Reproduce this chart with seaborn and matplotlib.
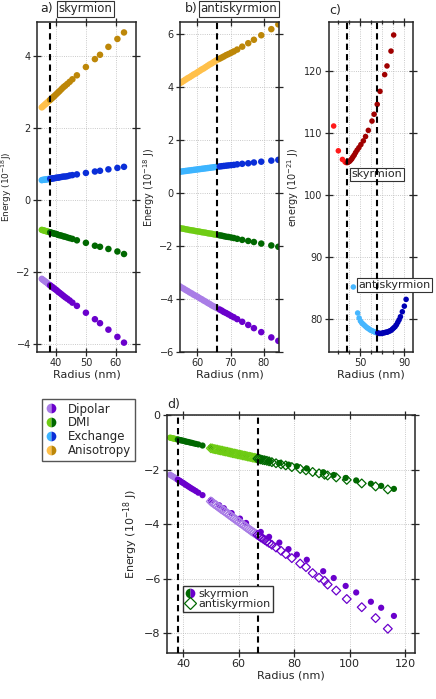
import numpy as np
import pandas as pd
import seaborn as sns
import matplotlib.pyplot as plt
from matplotlib.lines import Line2D
from matplotlib.ticker import FixedLocator, MultipleLocator

# ---- skyrmion: radius (nm) and energy terms (1e-18 J)
sk_r = [35.3, 35.7, 36.1, 36.5, 36.9, 37.3, 37.7, 38.1, 38.5, 38.9,
        39.3, 39.8, 40.3, 40.8, 41.3, 41.9, 42.5, 43.1, 43.8, 44.6,
        45.5, 47.0, 50.0, 53.0, 54.7, 57.5, 60.5, 62.7, 68.0, 71.0,
        74.7, 78.0, 81.0, 84.6, 90.5, 94.3, 98.6, 102.4, 107.7, 111.4, 116.0]
sk_dmi = [-0.83, -0.84, -0.85, -0.86, -0.87, -0.88, -0.89, -0.90, -0.91, -0.92,
          -0.93, -0.94, -0.95, -0.97, -0.98, -0.99, -1.01, -1.02, -1.04, -1.06,
          -1.08, -1.12, -1.19, -1.27, -1.30, -1.36, -1.43, -1.50, -1.63, -1.70,
          -1.76, -1.82, -1.88, -1.96, -2.10, -2.20, -2.31, -2.40, -2.52, -2.60, -2.71]
sk_dip = [-2.19, -2.22, -2.24, -2.27, -2.29, -2.32, -2.35, -2.37, -2.40, -2.42,
          -2.45, -2.48, -2.51, -2.55, -2.58, -2.62, -2.66, -2.70, -2.74, -2.79,
          -2.85, -2.94, -3.13, -3.31, -3.42, -3.60, -3.80, -3.96, -4.29, -4.47,
          -4.68, -4.92, -5.12, -5.31, -5.73, -5.98, -6.27, -6.51, -6.85, -7.07, -7.37]
# exchange / anisotropy only for the radii shown in panel a
sk_exch = [0.55, 0.56, 0.56, 0.57, 0.57, 0.58, 0.58, 0.59, 0.59, 0.60,
           0.60, 0.61, 0.62, 0.62, 0.63, 0.64, 0.65, 0.65, 0.66, 0.68,
           0.69, 0.71, 0.75, 0.79, 0.81, 0.85, 0.89, 0.92]
sk_anis = [2.57, 2.60, 2.63, 2.66, 2.69, 2.72, 2.75, 2.78, 2.81, 2.84,
           2.87, 2.91, 2.95, 2.99, 3.03, 3.08, 3.13, 3.17, 3.22, 3.28,
           3.35, 3.46, 3.69, 3.91, 4.03, 4.25, 4.47, 4.65]

# ---- antiskyrmion
ask_r = [50.0, 50.6, 51.2, 51.8, 52.4, 53.0, 53.6, 54.2, 54.8, 55.4,
         56.0, 56.6, 57.2, 57.8, 58.4, 59.0, 59.6, 60.2, 60.8, 61.4,
         62.0, 62.6, 63.2, 63.8, 64.4, 65.0, 65.6, 66.2, 66.8, 67.4,
         68.0, 68.7, 69.4, 70.2, 71.0, 72.0, 73.5, 75.3, 77.0, 79.2,
         82.2, 84.3, 86.7, 89.0, 91.0, 92.1, 95.2, 99.0, 104.4, 109.4, 113.8]
ask_dmi = [-1.22, -1.23, -1.25, -1.26, -1.27, -1.29, -1.30, -1.31, -1.33, -1.34,
           -1.35, -1.37, -1.38, -1.40, -1.41, -1.42, -1.44, -1.45, -1.46, -1.48,
           -1.49, -1.50, -1.52, -1.53, -1.54, -1.56, -1.57, -1.58, -1.60, -1.61,
           -1.63, -1.65, -1.66, -1.68, -1.70, -1.73, -1.77, -1.81, -1.85, -1.91,
           -1.98, -2.03, -2.09, -2.14, -2.19, -2.22, -2.29, -2.38, -2.51, -2.62, -2.73]
ask_dip = [-3.17, -3.21, -3.26, -3.30, -3.35, -3.39, -3.44, -3.48, -3.52, -3.57,
           -3.61, -3.66, -3.70, -3.75, -3.79, -3.84, -3.88, -3.92, -3.97, -4.01,
           -4.06, -4.10, -4.15, -4.19, -4.24, -4.28, -4.32, -4.36, -4.40, -4.44,
           -4.49, -4.53, -4.58, -4.64, -4.69, -4.76, -4.86, -4.98, -5.10, -5.25,
           -5.45, -5.58, -5.80, -5.97, -6.08, -6.22, -6.44, -6.75, -7.05, -7.45, -7.84]
ask_exch = [0.72, 0.73, 0.74, 0.75, 0.76, 0.77, 0.78, 0.79, 0.80, 0.81,
            0.82, 0.83, 0.84, 0.85, 0.86, 0.87, 0.88, 0.89, 0.90, 0.91,
            0.92, 0.93, 0.94, 0.95, 0.96, 0.97, 0.98, 0.99, 1.00, 1.01,
            1.02, 1.03, 1.04, 1.05, 1.06, 1.08, 1.10, 1.12, 1.15, 1.18,
            1.22, 1.25]
ask_anis = [3.75, 3.80, 3.85, 3.90, 3.94, 3.99, 4.04, 4.09, 4.14, 4.18,
            4.23, 4.28, 4.33, 4.37, 4.42, 4.47, 4.51, 4.56, 4.61, 4.66,
            4.70, 4.75, 4.80, 4.85, 4.89, 4.94, 4.99, 5.03, 5.07, 5.11,
            5.15, 5.20, 5.24, 5.29, 5.34, 5.41, 5.52, 5.65, 5.78, 5.95,
            6.18, 6.36]

# ---- total energy (1e-21 J), panel c
c_sk_r = [26.3, 30.5, 34.2, 36.6, 37.6, 38.6, 39.6, 40.6, 41.6, 42.6,
          43.6, 44.8, 46.0, 47.4, 49.0, 50.8, 53.0, 55.0, 57.5, 60.8,
          62.7, 65.5, 68.0, 72.2, 74.3, 77.9, 80.3]
c_sk_e = [111.1, 107.1, 105.7, 105.3, 105.2, 105.2, 105.3, 105.4, 105.6, 105.8,
          106.1, 106.4, 106.8, 107.2, 107.6, 108.1, 108.7, 109.4, 110.4, 111.9,
          113.0, 114.6, 116.7, 119.4, 120.8, 123.2, 125.8]
c_ask_r = [44.0, 47.9, 49.2, 50.4, 51.6, 52.8, 54.0, 55.2, 56.4, 57.6,
           58.8, 60.0, 61.2, 62.4, 63.6, 64.8, 66.0, 67.2, 68.4, 69.6,
           70.8, 72.0, 73.2, 74.4, 75.6, 76.8, 78.0, 79.2, 80.4, 81.6,
           82.8, 84.0, 85.2, 86.4, 88.1, 89.9, 91.5]
c_ask_e = [85.1, 80.9, 80.1, 79.6, 79.3, 79.1, 78.9, 78.7, 78.5, 78.4,
           78.2, 78.1, 78.0, 77.9, 77.8, 77.7, 77.7, 77.6, 77.6, 77.6,
           77.7, 77.7, 77.8, 77.8, 77.9, 78.0, 78.1, 78.3, 78.5, 78.7,
           79.0, 79.4, 79.8, 80.3, 81.1, 82.0, 83.1]

sk_rmin = 38.0
ask_rmin = 66.5

cols = {
    'Dipolar': ('#a97de6', '#6a00cc'),
    'DMI': ('#6fcc14', '#006800'),
    'Exchange': ('#3cb4ff', '#0a2ed8'),
    'Anisotropy': ('#ffc04a', '#bd8708'),
}
red = ('#ff1a1a', '#a00000')
blue = ('#45b6ff', '#0000b4')

sns.set_style('ticks')
plt.rcParams['font.family'] = ['DejaVu Sans']


def dots(ax, r, e, thr, pal, s=22):
    df = pd.DataFrame({'r': r, 'e': e})
    df['phase'] = np.where(df['r'] < thr, 'light', 'dark')
    sns.scatterplot(data=df, x='r', y='e', hue='phase',
                    palette={'light': pal[0], 'dark': pal[1]},
                    s=s, linewidth=0, legend=False, ax=ax)


def diamonds(ax, r, e, thr, pal, s=20):
    df = pd.DataFrame({'r': r, 'e': e})
    for ph, c in [('light', pal[0]), ('dark', pal[1])]:
        sub = df[(df['r'] < thr) == (ph == 'light')]
        sns.scatterplot(data=sub, x='r', y='e', marker='D', s=s,
                        color=c, facecolor='none', edgecolor=c,
                        linewidth=0.9, legend=False, ax=ax)


def style(ax, fs=7):
    ax.grid(True, which='both', ls=':', lw=0.6, color='#b8b8b8')
    ax.tick_params(which='both', direction='inout', top=True, right=True,
                   labelsize=fs, width=0.9, length=6, pad=1.5)
    ax.tick_params(which='minor', length=3.5)
    for sp in ax.spines.values():
        sp.set_linewidth(1.1)
    ax.set_axisbelow(True)


def vline(ax, x):
    ax.axvline(x, color='k', lw=1.5, ls=(0, (3, 2)), zorder=5)


def boxed(ax, x, y, txt, fs):
    ax.text(x, y, txt, transform=ax.transAxes, fontsize=fs, va='center',
            ha='left', clip_on=False,
            bbox=dict(boxstyle='square,pad=0.15', fc='white', ec='#333333', lw=0.8))


fig = plt.figure(figsize=(4.36, 6.99), dpi=100)
W, H = 436, 699


def add_ax(l, t, r, b):
    return fig.add_axes([l / W, 1 - b / H, (r - l) / W, (b - t) / H])


ax_a = add_ax(37, 22, 136, 352)
ax_b = add_ax(180, 22, 279, 352)
ax_c = add_ax(329, 22, 413, 352)
ax_d = add_ax(167, 415, 415, 653)

# ---- a) skyrmion
na = len(sk_exch)
dots(ax_a, sk_r[:na], sk_anis, sk_rmin, cols['Anisotropy'])
dots(ax_a, sk_r[:na], sk_exch, sk_rmin, cols['Exchange'])
dots(ax_a, sk_r, sk_dmi, sk_rmin, cols['DMI'])
dots(ax_a, sk_r, sk_dip, sk_rmin, cols['Dipolar'])
vline(ax_a, sk_rmin)
ax_a.set_xlim(33.7, 66.7)
ax_a.set_ylim(-4.22, 4.94)
ax_a.xaxis.set_major_locator(FixedLocator([40, 50, 60]))
ax_a.yaxis.set_major_locator(MultipleLocator(2))
style(ax_a)
ax_a.set_xlabel('Radius (nm)', fontsize=8, labelpad=1)
ax_a.set_ylabel('Energy (10$^{-18}$J)', fontsize=6.5, labelpad=2)
ax_a.text(0.03, 1.04, 'a)', transform=ax_a.transAxes, fontsize=9, va='center')
boxed(ax_a, 0.215, 1.04, 'skyrmion', 8.5)

# ---- b) antiskyrmion
nb = len(ask_exch)
dots(ax_b, ask_r[:nb], ask_anis, ask_rmin, cols['Anisotropy'])
dots(ax_b, ask_r[:nb], ask_exch, ask_rmin, cols['Exchange'])
dots(ax_b, ask_r, ask_dmi, ask_rmin, cols['DMI'])
dots(ax_b, ask_r, ask_dip, ask_rmin, cols['Dipolar'])
vline(ax_b, 66.0)
ax_b.set_xlim(54.9, 84.5)
ax_b.set_ylim(-6.0, 6.45)
ax_b.xaxis.set_major_locator(FixedLocator([60, 70, 80]))
ax_b.yaxis.set_major_locator(MultipleLocator(2))
style(ax_b)
ax_b.set_xlabel('Radius (nm)', fontsize=8, labelpad=1)
ax_b.set_ylabel('Energy (10$^{-18}$ J)', fontsize=7, labelpad=2)
ax_b.text(0.05, 1.04, 'b)', transform=ax_b.transAxes, fontsize=9, va='center')
boxed(ax_b, 0.205, 1.04, 'antiskyrmion', 8.5)

# ---- c) total energy
dots(ax_c, c_sk_r, c_sk_e, sk_rmin, red, s=16)
dots(ax_c, c_ask_r, c_ask_e, 65.0, blue, s=16)
vline(ax_c, sk_rmin)
vline(ax_c, 65.0)
ax_c.set_xlim(22.1, 97.7)
ax_c.set_ylim(74.6, 127.9)
ax_c.xaxis.set_major_locator(FixedLocator([50, 90]))
ax_c.xaxis.set_minor_locator(FixedLocator([30, 40, 60, 70, 80]))
ax_c.yaxis.set_major_locator(MultipleLocator(10))
style(ax_c)
ax_c.set_xlabel('Radius (nm)', fontsize=8, labelpad=1)
ax_c.set_ylabel('energy (10$^{-21}$ J)', fontsize=7, labelpad=2)
ax_c.text(0.0, 1.036, 'c)', transform=ax_c.transAxes, fontsize=9, va='center')
ax_c.text(42.6, 103.3, 'skyrmion', fontsize=8, va='center', ha='left',
          bbox=dict(boxstyle='square,pad=0.15', fc='white', ec='#333333', lw=0.8))
ax_c.text(48.6, 85.4, 'antiskyrmion', fontsize=8, va='center', ha='left', clip_on=False,
          bbox=dict(boxstyle='square,pad=0.15', fc='white', ec='#333333', lw=0.8))

# ---- d) comparison
dots(ax_d, sk_r, sk_dmi, sk_rmin, cols['DMI'], s=20)
dots(ax_d, sk_r, sk_dip, sk_rmin, cols['Dipolar'], s=20)
diamonds(ax_d, ask_r, ask_dmi, ask_rmin, cols['DMI'])
diamonds(ax_d, ask_r, ask_dip, ask_rmin, cols['Dipolar'])
vline(ax_d, sk_rmin)
vline(ax_d, 67.0)
ax_d.set_xlim(34.2, 123.6)
ax_d.set_ylim(-8.73, 0)
ax_d.xaxis.set_major_locator(MultipleLocator(20))
ax_d.yaxis.set_major_locator(MultipleLocator(2))
style(ax_d, fs=8)
ax_d.set_xlabel('Radius (nm)', fontsize=8, labelpad=1)
ax_d.set_ylabel('Energy (10$^{-18}$ J)', fontsize=8, labelpad=3)
ax_d.text(0.0, 1.046, 'd)', transform=ax_d.transAxes, fontsize=9, va='center')

d_handles = [
    Line2D([], [], ls='none', marker='o', ms=7, fillstyle='left',
           markerfacecolor=cols['DMI'][1], markerfacecoloralt=cols['Dipolar'][1],
           markeredgewidth=0),
    Line2D([], [], ls='none', marker='D', ms=6, markerfacecolor='none',
           markeredgecolor=cols['DMI'][1], markeredgewidth=0.9),
]
ax_d.legend(d_handles, ['skyrmion', 'antiskyrmion'], loc='lower left',
            bbox_to_anchor=(0.065, 0.172), borderaxespad=0, fontsize=8,
            frameon=True, fancybox=False, edgecolor='#333333', framealpha=1,
            handlelength=0.8, handletextpad=0.3, labelspacing=0.05,
            borderpad=0.25)

# ---- shared colour legend
comp_handles = []
for name in ['Dipolar', 'DMI', 'Exchange', 'Anisotropy']:
    comp_handles.append(Line2D([], [], ls='none', marker='o', ms=7, fillstyle='left',
                               markerfacecolor=cols[name][0],
                               markerfacecoloralt=cols[name][1], markeredgewidth=0))
leg = fig.legend(comp_handles, ['Dipolar', 'DMI', 'Exchange', 'Anisotropy'],
                 loc='upper left', bbox_to_anchor=(42 / W, 1 - 399 / H),
                 borderaxespad=0, fontsize=8.5, frameon=True, fancybox=False,
                 edgecolor='#555555', framealpha=1, handlelength=1.0,
                 handletextpad=0.9, labelspacing=0.08, borderpad=0.3)
leg.get_frame().set_linewidth(1.0)

fig.savefig('out.png', dpi=100)
